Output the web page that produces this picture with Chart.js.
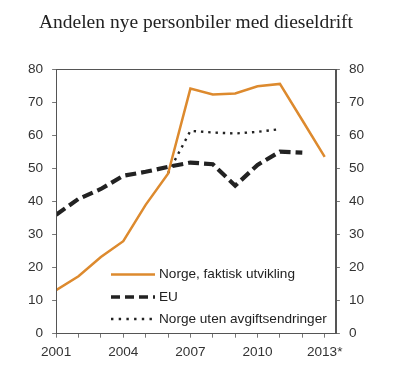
<!DOCTYPE html>
<html>
<head>
<meta charset="utf-8">
<script src="https://cdn.jsdelivr.net/npm/chart.js@4/dist/chart.umd.min.js"></script>
<style>
html,body{margin:0;padding:0;background:#fff;}
#wrap{width:400px;height:386px;}
</style>
</head>
<body>
<div id="wrap"><canvas id="c" width="400" height="386"></canvas></div>
<script>
const years = [2001,2002,2003,2004,2005,2006,2007,2008,2009,2010,2011,2012,2013];
const norgeFaktisk = [13.2,17.4,23.2,28.0,39.0,48.4,74.2,72.4,72.7,74.9,75.6,64.6,53.5];
const eu = [36.0,40.8,43.8,47.8,49.0,50.5,51.8,51.3,44.8,51.1,55.1,54.8,null];
const norgeUten = [null,null,null,null,null,48.6,61.4,60.9,60.6,61.1,61.9,null,null];
const xTickLabels = {2001:'2001',2004:'2004',2007:'2007',2010:'2010',2013:'2013*'};
const yTicks = [0,10,20,30,40,50,60,70,80];
const seriesNames = ['Norge, faktisk utvikling','EU','Norge uten avgiftsendringer'];

const toPts = arr => years.map((y,i)=>({x:y,y:arr[i]}));

const boxPlugin = {
  id:'box',
  afterDraw(chart){
    const a = chart.chartArea, ctx = chart.ctx;
    ctx.save();
    ctx.strokeStyle = '#555';
    ctx.lineWidth = 1;
    ctx.strokeRect(Math.round(a.left)+0.5, Math.round(a.top)+0.5, Math.round(a.right-a.left), Math.round(a.bottom-a.top));
    ctx.restore();
  }
};
const legendPlugin = {
  id:'customLegend',
  afterDraw(chart){
    const ctx = chart.ctx;
    const x0 = 111, x1 = 155, tx = 159;
    const rows = [274.5, 297, 319];
    ctx.save();
    chart.data.datasets.forEach((ds,i)=>{
      const y = rows[i];
      ctx.beginPath();
      ctx.strokeStyle = ds.borderColor;
      ctx.lineWidth = ds.legendWidth;
      ctx.setLineDash(ds.legendDash);
      ctx.lineCap = 'butt';
      ctx.moveTo(x0,y); ctx.lineTo(x1,y);
      ctx.stroke();
      ctx.setLineDash([]);
      ctx.fillStyle = '#222';
      ctx.font = '13.6px "Liberation Sans", Arial, sans-serif';
      ctx.textBaseline = 'middle';
      ctx.textAlign = 'left';
      ctx.fillText(ds.label, tx, y);
    });
    ctx.restore();
  }
};

const tickFont = {family:'"Liberation Sans", Arial, sans-serif', size:13.6};
const yCommon = {
  type:'linear', min:0, max:80,
  afterBuildTicks(axis){ axis.ticks = yTicks.map(v=>({value:v})); },
  ticks:{color:'#333', font:tickFont, padding:9},
  grid:{drawOnChartArea:false, tickLength:4, color:'#777'},
  border:{color:'#555'}
};

new Chart(document.getElementById('c'), {
  type:'line',
  data:{
    datasets:[
      {label:seriesNames[0], data:toPts(norgeFaktisk), borderColor:'#DD8A2E', borderWidth:2.5, pointRadius:0, tension:0, legendWidth:2.5, legendDash:[]},
      {label:seriesNames[1], data:toPts(eu), borderColor:'#222', borderWidth:4.2, borderDash:[11,5], pointRadius:0, tension:0, legendWidth:3.3, legendDash:[9,5]},
      {label:seriesNames[2], data:toPts(norgeUten), borderColor:'#222', borderWidth:2.4, borderDash:[2.4,4.9], pointRadius:0, tension:0, legendWidth:2.4, legendDash:[2.4,5.3]}
    ]
  },
  options:{
    responsive:false,
    animation:false,
    spanGaps:false,
    layout:{padding:{left:19, right:27, top:0, bottom:20}},
    plugins:{
      legend:{display:false},
      tooltip:{enabled:false},
      title:{display:true, text:'Andelen nye personbiler med dieseldrift', color:'#222',
        font:{family:'"Liberation Serif", "Times New Roman", serif', size:19.5, weight:'normal'},
        padding:{top:11, bottom:35}}
    },
    scales:{
      x:{type:'linear', min:2001, max:2013.5,
        afterBuildTicks(axis){ axis.ticks = years.map(v=>({value:v})); },
        ticks:{color:'#333', font:tickFont, padding:6, maxRotation:0, autoSkip:false,
          callback:v=> xTickLabels[v] || ''},
        grid:{drawOnChartArea:false, tickLength:4, color:'#777'},
        border:{color:'#555'}
      },
      y:Object.assign({position:'left'}, yCommon),
      y2:Object.assign({position:'right'}, yCommon)
    }
  },
  plugins:[boxPlugin, legendPlugin]
});
</script>
</body>
</html>
